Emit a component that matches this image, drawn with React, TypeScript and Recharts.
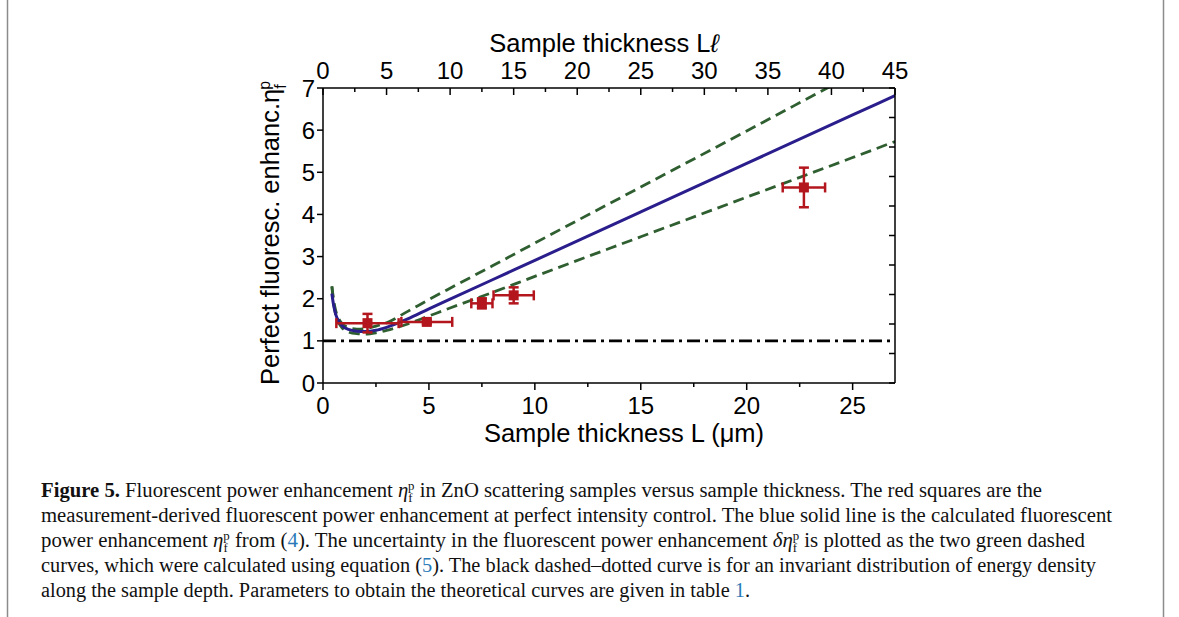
import React from 'react'
import { ComposedChart, Line, Scatter, ErrorBar, XAxis, YAxis } from 'recharts'

// theoretical curves, L in µm
const curveL = [0.42, 0.5, 0.6, 0.75, 0.9, 1.2, 1.6, 2.0, 2.5, 3.0, 4.0, 5.0, 6.0, 8.0, 10, 15, 20, 25, 27]
const etaCalc = [2.12, 1.85, 1.63, 1.46, 1.36, 1.27, 1.23, 1.22, 1.25, 1.32, 1.52, 1.76, 1.99, 2.45, 2.91, 4.06, 5.21, 6.36, 6.82]
const etaUpper = [2.3, 1.98, 1.72, 1.52, 1.41, 1.32, 1.28, 1.29, 1.35, 1.43, 1.7, 1.98, 2.25, 2.78, 3.32, 4.65, 5.98, 7.32, 7.85]
const etaLower = [2.28, 1.9, 1.62, 1.42, 1.31, 1.21, 1.17, 1.16, 1.19, 1.25, 1.4, 1.59, 1.78, 2.15, 2.53, 3.47, 4.41, 5.35, 5.73]
const invariantL = [0, 27]
const invariantEta = [1, 1]

// measurements
const measL = [2.1, 4.9, 7.5, 9.0, 22.7]
const measEta = [1.42, 1.45, 1.89, 2.08, 4.64]
const measLErr = [1.47, 1.2, 0.5, 0.95, 1.0]
const measEtaErr = [0.22, 0.05, 0.12, 0.19, 0.47]

// mean free path ℓ in µm (top axis is L/ℓ)
const ell = 0.6

const bottomTicks = [0, 2.5, 5, 7.5, 10, 12.5, 15, 17.5, 20, 22.5, 25]
const topTicks = [0, 2.5, 5, 7.5, 10, 12.5, 15, 17.5, 20, 22.5, 25, 27.5, 30, 32.5, 35, 37.5, 40, 42.5, 45]
const leftTicks = [0, 1, 2, 3, 4, 5, 6, 7]
const rightTicks = [0, 1, 2, 3, 4, 5, 6, 7, 8, 9, 10]

const allL = Array.from(new Set([...curveL, ...invariantL])).sort((a, b) => a - b)
const curveData = allL.map((L) => {
  const i = curveL.indexOf(L)
  const j = invariantL.indexOf(L)
  return {
    L,
    Ll: L / ell,
    calc: i >= 0 ? etaCalc[i] : null,
    upper: i >= 0 ? etaUpper[i] : null,
    lower: i >= 0 ? etaLower[i] : null,
    invariant: j >= 0 ? invariantEta[j] : null,
  }
})
const measData = measL.map((L, i) => ({ L, eta: measEta[i], LErr: measLErr[i], etaErr: measEtaErr[i] }))

const FONT = '"Liberation Sans", Arial, sans-serif'
const SERIF = '"Liberation Serif", "Times New Roman", serif'
const BLUE = '#2a1d8c'
const GREEN = '#2f5f30'
const RED = '#b3161d'
const LINK = '#2a7ab8'

function BottomTick({ x, y, payload }: any) {
  const major = payload.value % 5 === 0
  return (
    <g>
      <line x1={x} x2={x} y1={y} y2={y + (major ? 7 : 4)} stroke="#000" strokeWidth={1.5} />
      {major && (
        <text x={x} y={y + 31} textAnchor="middle" fontSize={24} fontFamily={FONT} fill="#000">
          {payload.value}
        </text>
      )}
    </g>
  )
}

function TopTick({ x, y, payload }: any) {
  const major = payload.value % 5 === 0
  return (
    <g>
      <line x1={x} x2={x} y1={y} y2={y + (major ? 7 : 4)} stroke="#000" strokeWidth={1.5} />
      {major && (
        <text x={x} y={y - 9} textAnchor="middle" fontSize={24} fontFamily={FONT} fill="#000">
          {payload.value}
        </text>
      )}
    </g>
  )
}

function LeftTick({ x, y, payload }: any) {
  return (
    <g>
      <line x1={x - 6} x2={x} y1={y} y2={y} stroke="#000" strokeWidth={1.5} />
      <text x={x - 8} y={y + 8.6} textAnchor="end" fontSize={24} fontFamily={FONT} fill="#000">
        {payload.value}
      </text>
    </g>
  )
}

function RightTick({ x, y }: any) {
  return <line x1={x - 6} x2={x} y1={y} y2={y} stroke="#000" strokeWidth={1.5} />
}

function Square({ cx, cy }: any) {
  return <rect x={cx - 5} y={cy - 5} width={10} height={10} fill={RED} />
}

// η with subscript f and superscript p, then the following text back on the baseline
function eta(size: number, after: string, italic = true, key = 'e') {
  const s = size * 0.62
  const down = size * 0.26
  const up = size * 0.6
  return [
    <tspan key={key + '1'} fontStyle={italic ? 'italic' : 'normal'}>η</tspan>,
    <tspan key={key + '2'} fontSize={s} dy={down}>f</tspan>,
    <tspan key={key + '3'} fontSize={s} dx={-s * 0.34} dy={-up}>p</tspan>,
    <tspan key={key + '4'} dy={up - down}>{after}</tspan>,
  ]
}

export default function App() {
  const axisLine = { stroke: '#000', strokeWidth: 1.5 }
  const cap = 20.5
  return (
    <div style={{ position: 'absolute', left: 0, top: 0, width: 1179, height: 617, background: '#fff' }}>
      <svg width={1179} height={617} style={{ position: 'absolute', left: 0, top: 0 }}>
        <line x1={7.5} x2={7.5} y1={0} y2={617} stroke="#8c8c8c" strokeWidth={1.5} />
        <line x1={1163.5} x2={1163.5} y1={0} y2={617} stroke="#8c8c8c" strokeWidth={1.5} />
        <g fontFamily={SERIF} fontSize={cap} fill="#111">
          <text x={41} y={497} textLength={1001} lengthAdjust="spacingAndGlyphs">
            <tspan fontWeight="bold">Figure 5.</tspan>
            {' Fluorescent power enhancement '}
            {eta(cap, ' in ZnO scattering samples versus sample thickness. The red squares are the')}
          </text>
          <text x={41} y={522} textLength={1071} lengthAdjust="spacingAndGlyphs">
            measurement-derived fluorescent power enhancement at perfect intensity control. The blue solid line is the calculated fluorescent
          </text>
          <text x={41} y={547} textLength={1044} lengthAdjust="spacingAndGlyphs">
            {'power enhancement '}
            {eta(cap, ' from (', true, 'a')}
            <tspan fill={LINK}>4</tspan>
            {'). The uncertainty in the fluorescent power enhancement '}
            <tspan fontStyle="italic">δ</tspan>
            {eta(cap, ' is plotted as the two green dashed', true, 'b')}
          </text>
          <text x={41} y={572} textLength={1055} lengthAdjust="spacingAndGlyphs">
            {'curves, which were calculated using equation ('}
            <tspan fill={LINK}>5</tspan>
            {'). The black dashed–dotted curve is for an invariant distribution of energy density'}
          </text>
          <text x={41} y={597} textLength={709} lengthAdjust="spacingAndGlyphs">
            {'along the sample depth. Parameters to obtain the theoretical curves are given in table '}
            <tspan fill={LINK}>1</tspan>
            {'.'}
          </text>
        </g>
      </svg>
      <div style={{ position: 'absolute', left: 0, top: 0 }}>
        <ComposedChart
          width={1179}
          height={470}
          data={curveData}
          margin={{ top: 48, right: 274, bottom: 47, left: 243 }}
        >
          <XAxis
            dataKey="L"
            type="number"
            domain={[0, 27]}
            ticks={bottomTicks}
            interval={0}
            allowDataOverflow
            height={40}
            tickSize={0}
            tickMargin={0}
            axisLine={axisLine}
            tickLine={false}
            tick={(p: any) => <BottomTick {...p} />}
            label={{
              content: ({ viewBox }: any) => (
                <text x={viewBox.x + viewBox.width / 2 + 15} y={viewBox.y + 59} textAnchor="middle" fontSize={25.5} fontFamily={FONT} fill="#000">
                  Sample thickness L (μm)
                </text>
              ),
            }}
          />
          <XAxis
            xAxisId="top"
            dataKey="Ll"
            orientation="top"
            type="number"
            domain={[0, 45]}
            ticks={topTicks}
            interval={0}
            allowDataOverflow
            height={40}
            tickSize={0}
            tickMargin={0}
            axisLine={axisLine}
            tickLine={false}
            tick={(p: any) => <TopTick {...p} />}
            label={{
              content: ({ viewBox }: any) => (
                <text x={viewBox.x + viewBox.width / 2 - 5} y={viewBox.y + 4} textAnchor="middle" fontSize={25.5} fontFamily={FONT} fill="#000">
                  Sample thickness L<tspan fontStyle="italic">ℓ</tspan>
                </text>
              ),
            }}
          />
          <YAxis
            type="number"
            domain={[0, 7]}
            ticks={leftTicks}
            interval={0}
            allowDataOverflow
            width={80}
            tickSize={0}
            tickMargin={0}
            axisLine={axisLine}
            tickLine={false}
            tick={(p: any) => <LeftTick {...p} />}
            label={{
              content: ({ viewBox }: any) => {
                const x = viewBox.x + 36
                const y = viewBox.y + viewBox.height + 2
                return (
                  <text x={x} y={y} transform={`rotate(-90, ${x}, ${y})`} fontSize={25.5} fontFamily={FONT} fill="#000">
                    {'Perfect fluoresc. enhanc.'}
                    {eta(25.5, '', false, 'y')}
                  </text>
                )
              },
            }}
          />
          <YAxis
            yAxisId="right"
            orientation="right"
            type="number"
            domain={[0, 10]}
            ticks={rightTicks}
            interval={0}
            allowDataOverflow
            width={10}
            tickSize={0}
            tickMargin={0}
            axisLine={axisLine}
            tickLine={false}
            tick={(p: any) => <RightTick {...p} />}
          />
          <Line
            dataKey="invariant"
            stroke="#000"
            strokeWidth={2.6}
            strokeDasharray="13 5 3 5"
            dot={false}
            connectNulls
            isAnimationActive={false}
          />
          <Line
            dataKey="upper"
            type="monotone"
            stroke={GREEN}
            strokeWidth={2.8}
            strokeDasharray="11 6"
            dot={false}
            connectNulls
            isAnimationActive={false}
          />
          <Line
            dataKey="lower"
            type="monotone"
            stroke={GREEN}
            strokeWidth={2.8}
            strokeDasharray="11 6"
            dot={false}
            connectNulls
            isAnimationActive={false}
          />
          <Line
            dataKey="calc"
            type="monotone"
            stroke={BLUE}
            strokeWidth={3}
            dot={false}
            connectNulls
            isAnimationActive={false}
          />
          <Scatter data={measData} dataKey="eta" shape={(p: any) => <Square {...p} />} isAnimationActive={false}>
            <ErrorBar dataKey="LErr" direction="x" width={5} stroke={RED} strokeWidth={2.5} />
            <ErrorBar dataKey="etaErr" direction="y" width={5} stroke={RED} strokeWidth={2.5} />
          </Scatter>
        </ComposedChart>
      </div>
    </div>
  )
}
